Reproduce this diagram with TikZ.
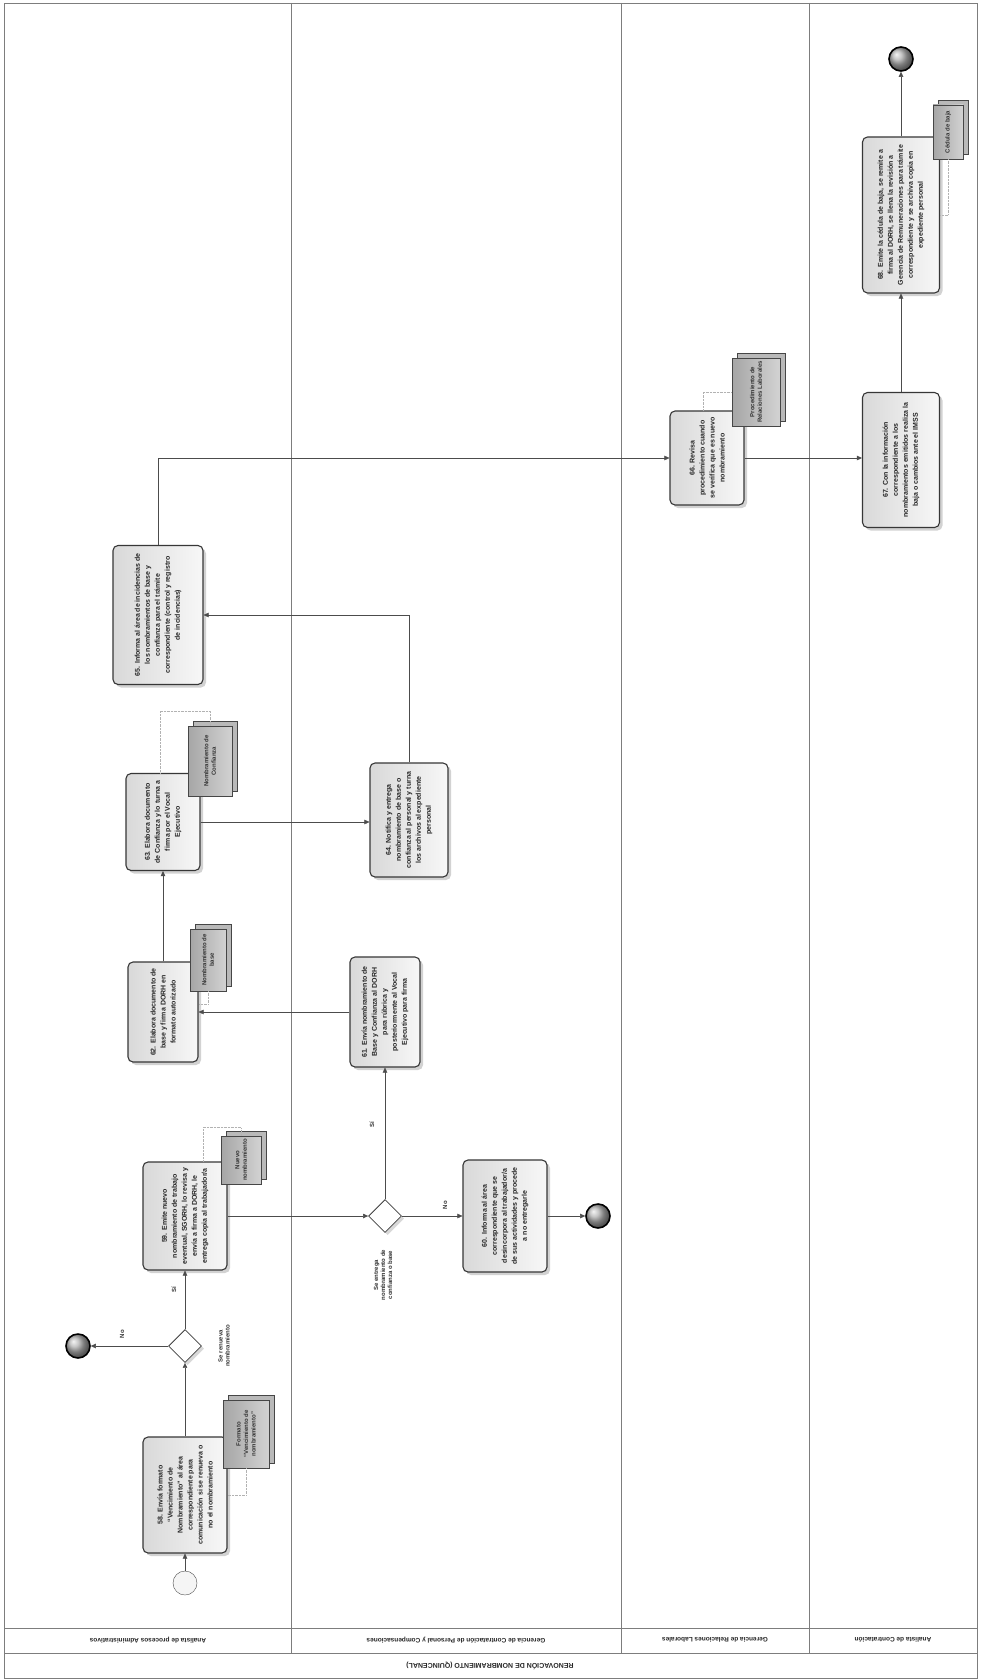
\documentclass[tikz,border=0pt]{standalone}
\usepackage{fontspec}
\setmainfont{Liberation Sans}
\usepackage{graphicx}
\usetikzlibrary{shapes.geometric, arrows.meta, positioning, shadows}
\definecolor{laneline}{RGB}{125,125,125}
\definecolor{taskedge}{RGB}{55,55,55}
\newcommand{\vt}[2]{\rotatebox{90}{\parbox{#1}{\centering #2}}}

\begin{document}
\begin{tikzpicture}[
  x=1pt, y=-1pt,
  task/.style={draw=taskedge, line width=1.1pt, rounded corners=5pt, inner sep=0pt, left color=gray!30, right color=gray!6, drop shadow={opacity=0.35, shadow xshift=3pt, shadow yshift=-3pt}, font=\fontsize{7}{10}\selectfont\bfseries, text=black!85},
  doc/.style={draw=gray!55!black, inner sep=0pt, left color=gray!70, right color=gray!35, copy shadow={shadow xshift=5pt, shadow yshift=5pt, draw=gray!55!black, fill=gray!55}, font=\fontsize{6}{7.5}\selectfont\bfseries, text=black!80},
  gate/.style={diamond, draw=gray!50!black, thick, fill=white, minimum size=33pt, inner sep=0pt, drop shadow={opacity=0.3}},
  startev/.style={circle, draw=gray!60!black, fill=gray!8, minimum size=24pt, inner sep=0pt},
  endev/.style={circle, draw=black, line width=1.6pt, ball color=gray!60, minimum size=24pt, inner sep=0pt},
  flow/.style={draw=gray!60!black, -{Triangle[length=5pt, width=4.5pt]}},
  assoc/.style={draw=gray!60, densely dotted},
  lbl/.style={font=\fontsize{6}{7}\selectfont\bfseries, text=black!80, rotate=90},
  lanelbl/.style={font=\fontsize{6.5}{8}\selectfont\bfseries, text=black!85, rotate=180},
]
\fill[white] (0,0) rectangle (980,1680);
\useasboundingbox (0,0) rectangle (980,1680);

% pool and lanes
\draw[laneline] (4,3) rectangle (977,1678);
\draw[laneline] (4,1628) -- (977,1628);
\draw[laneline] (4,1653) -- (977,1653);
\foreach \x in {291,621,809} \draw[laneline] (\x,3) -- (\x,1653);
\node[lanelbl] (lane1) at (148,1640) {Analista de procesos Administrativos};
\node[lanelbl] (lane2) at (456,1640) {Gerencia de Contratación de Personal y Compensaciones};
\node[lanelbl] (lane3) at (715,1640) {Gerencia de Relaciones Laborales};
\node[lanelbl] (lane4) at (893,1640) {Analista de Contratación};
\node[lanelbl, font=\fontsize{7}{8}\selectfont\bfseries] (title) at (490,1666) {RENOVACIÓN DE NOMBRAMIENTO (QUINCENAL)};

% events, tasks and gateways
\node[startev] (start) at (185,1583) {};
\node[task, minimum width=84pt, minimum height=116pt] (t58) at (185,1495) {\vt{104pt}{58. Envía formato “Vencimiento de Nombramiento” al área correspondiente para comunicación si se renueva o no el nombramiento}};
\node[doc, minimum width=46pt, minimum height=68pt] (d58) at (246,1434) {\vt{62pt}{Formato “Vencimiento de nombramiento”}};
\node[gate] (gw1) at (185,1346) {};
\node[lbl, align=center] (gw1l) at (224,1346) {Se renueva\\nombramiento};
\node[endev] (end1) at (78,1346) {};
\node[task, minimum width=84pt, minimum height=108pt] (t59) at (185,1216) {\vt{96pt}{59. Emite nuevo nombramiento de trabajo eventual, SGORH, lo revisa y envía a firma a DORH, le entrega copia al trabajador/a}};
\node[doc, minimum width=40pt, minimum height=48pt] (d59) at (241,1160) {\vt{44pt}{Nuevo nombramiento}};
\node[gate] (gw2) at (385,1216) {};
\node[lbl, align=center] (gw2l) at (383,1275) {Se entrega\\nombramiento de\\confianza o base};
\node[task, minimum width=84pt, minimum height=112pt] (t60) at (505,1216) {\vt{100pt}{60. Informa al área correspondiente que se desincorpora al trabajador/a de sus actividades y procede a no entregarle}};
\node[endev] (end2) at (598,1216) {};
\node[task, minimum width=70pt, minimum height=110pt] (t61) at (385,1012) {\vt{98pt}{61. Envía nombramiento de Base y Confianza al DORH para rúbrica y posteriormente al Vocal Ejecutivo para firma}};
\node[task, minimum width=70pt, minimum height=100pt] (t62) at (163,1012) {\vt{88pt}{62. Elabora documento de base y firma DORH en formato autorizado}};
\node[doc, minimum width=36pt, minimum height=62pt] (d62) at (208,960) {\vt{56pt}{Nombramiento de base}};
\node[task, minimum width=74pt, minimum height=97pt] (t63) at (163,822) {\vt{86pt}{63. Elabora documento de Confianza y lo turna a firma por el Vocal Ejecutivo}};
\node[doc, minimum width=44pt, minimum height=70pt] (d63) at (210,761) {\vt{62pt}{Nombramiento de Confianza}};
\node[task, minimum width=78pt, minimum height=114pt] (t64) at (409,820) {\vt{102pt}{64. Notifica y entrega nombramiento de base o confianza al personal y turna los archivos al expediente personal}};
\node[task, minimum width=90pt, minimum height=139pt] (t65) at (158,615) {\vt{126pt}{65. Informa al área de incidencias de los nombramientos de base y confianza para el trámite correspondiente (control y registro de incidencias)}};
\node[task, minimum width=74pt, minimum height=94pt] (t66) at (707,458) {\vt{84pt}{66. Revisa procedimiento cuando se verifica que es nuevo nombramiento}};
\node[doc, minimum width=48pt, minimum height=68pt] (d66) at (756,392) {\vt{62pt}{Procedimiento de Relaciones Laborales}};
\node[task, minimum width=77pt, minimum height=135pt] (t67) at (901,460) {\vt{122pt}{67. Con la información correspondiente a los nombramientos emitidos realiza la baja o cambios ante el IMSS}};
\node[task, minimum width=77pt, minimum height=156pt] (t68) at (901,215) {\vt{144pt}{68. Emite la cédula de baja, se remite a firma al DORH, se llena la revisión a Gerencia de Remuneraciones para trámite correspondiente y se archiva copia en expediente personal}};
\node[doc, minimum width=30pt, minimum height=54pt] (d68) at (948,132) {\vt{48pt}{Cédula de baja}};
\node[endev] (end3) at (901,59) {};

% flow labels
\node[lbl] (no1) at (122,1334) {No};
\node[lbl] (si1) at (174,1290) {Sí};
\node[lbl] (si2) at (372,1125) {Sí};
\node[lbl] (no2) at (445,1205) {No};

% sequence flows
\draw[flow] (start) -- (t58);
\draw[flow] (t58) -- (gw1);
\draw[flow] (gw1) -- (end1);
\draw[flow] (gw1) -- (t59);
\draw[flow] (t59.east) -- (t59.east -| gw2.west);
\draw[flow] (gw2) -- (t61);
\draw[flow] (gw2) -- (t60);
\draw[flow] (t60) -- (end2);
\draw[flow] (t61) -- (t62);
\draw[flow] (t62) -- (t63);
\draw[flow] (t63.east) -- (t63.east -| t64.west);
\draw[flow] (t64) |- (t65);
\draw[flow] (t65) |- (t66);
\draw[flow] (t66.east) -- (t66.east -| t67.west);
\draw[flow] (t67) -- (t68);
\draw[flow] (t68) -- (end3);

% data associations
\draw[assoc] (d58.south) |- (t58.east);
\draw[assoc] ([xshift=18pt]t59.north) -- ++(0,-34) -| (d59.north);
\draw[assoc] (d62.south) |- ([yshift=8pt]t62.east);
\draw[assoc] ([xshift=-3pt]t63.north) -- ++(0,-62) -| (d63.north);
\draw[assoc] ([xshift=-4pt]t66.north) |- (d66.west);
\draw[assoc] (d68.south) |- (t68.east);
\end{tikzpicture}
\end{document}
